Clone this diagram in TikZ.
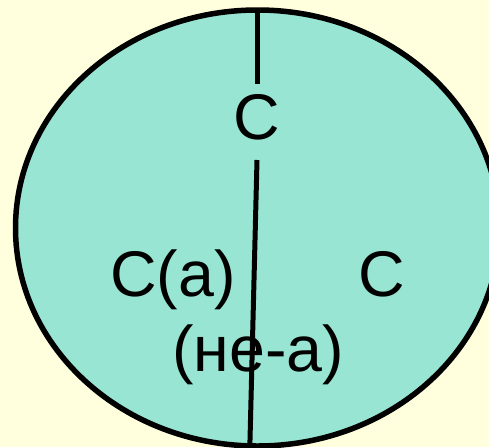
\documentclass[tikz,border=0pt]{standalone}
\usepackage{fontspec}
\setmainfont{Liberation Sans}
\usetikzlibrary{shapes.geometric}
\definecolor{bgyellow}{RGB}{255,255,221}
\definecolor{tealfill}{RGB}{153,229,211}
\tikzset{
  lbl/.style={font=\fontsize{64.5}{76}\selectfont, anchor=base, inner sep=0pt, text=black},
  divider/.style={line width=5pt, black}
}
\begin{document}
\begin{tikzpicture}[x=1pt,y=-1pt]
\clip (0,0) rectangle (489,447);
\fill[bgyellow] (0,0) rectangle (489,447);
\node[draw=black, line width=5.5pt, fill=tealfill, ellipse, minimum width=484pt, minimum height=436pt, inner sep=0pt] (circ) at (257.5,228) {};
\coordinate (t1) at (257.5,11);
\coordinate (t2) at (257.5,84);
\coordinate (b1) at (257,160);
\coordinate (b2) at (249.5,460);
\draw[divider] (t1) -- (t2);
\draw[divider] (b1) -- (b2);
\node[lbl] (ctop) at (257,139) {C};
\node[lbl] (ca) at (173,296) {C(a)};
\node[lbl] (cr) at (382,296) {C};
\node[lbl] (nea) at (258,371) {(не-а)};
\end{tikzpicture}
\end{document}
